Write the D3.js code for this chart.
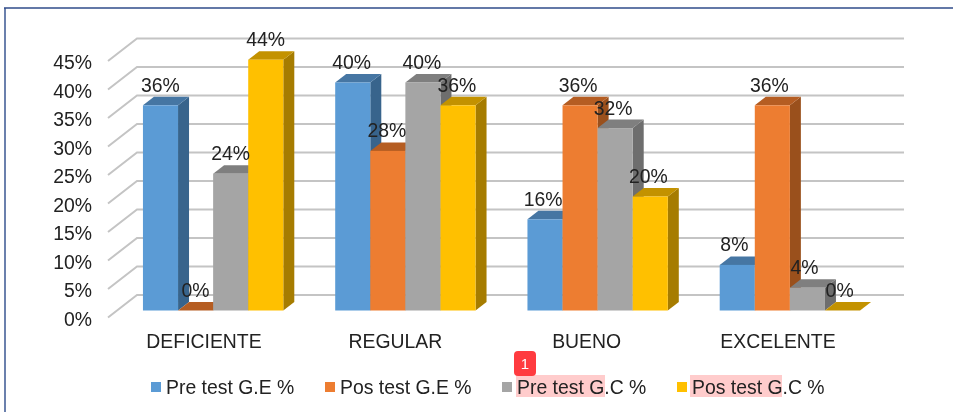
<!DOCTYPE html>
<html>
<head>
<meta charset="utf-8">
<script src="https://cdn.jsdelivr.net/npm/d3@7"></script>
<style>
  html, body { margin: 0; padding: 0; background: #fff; }
  svg { display: block; filter: blur(0.35px); }
  text { font-family: "Liberation Sans", Arial, sans-serif; fill: #222; }
</style>
</head>
<body>
<svg id="chart" width="953" height="412"></svg>
<script>
const categories = ['DEFICIENTE', 'REGULAR', 'BUENO', 'EXCELENTE'];
const seriesNames = ['Pre test G.E %', 'Pos test G.E %', 'Pre test G.C %', 'Pos test G.C %'];
const preTestGE = [36, 40, 16, 8];
const posTestGE = [0, 28, 36, 36];
const preTestGC = [24, 40, 32, 4];
const posTestGC = [44, 36, 20, 0];
const seriesValues = [preTestGE, posTestGE, preTestGC, posTestGC];
const yTicks = [0, 5, 10, 15, 20, 25, 30, 35, 40, 45];

const front = ['#5b9bd5', '#ed7d31', '#a5a5a5', '#ffc000'];
const top_ = ['#4676a3', '#b55d22', '#7f7f7f', '#c39200'];
const side = ['#38648c', '#9a501c', '#6e6e6e', '#a67c00'];

const svg = d3.select('#chart');
const font_size = 19.4;

// window frame, only top and left edges are visible
svg.append('path')
    .attr('d', 'M5,412V8')
    .attr('stroke', '#6b80ad')
    .attr('stroke-width', 2)
    .attr('fill', 'none');
svg.append('path')
    .attr('d', 'M4,8H953')
    .attr('stroke', '#2f4b8a')
    .attr('stroke-width', 1.5)
    .attr('fill', 'none');

// y scales: back wall, bar plane and axis labels are the same scale shifted
const yscale = d3.scaleLinear().domain([0, 45]).range([310.5, 54]);
const wall_dy = -15.5;
const label_dy = 7;
const depth = {x: 11, y: -8.5};

const xscale = d3.scaleBand()
    .domain(categories)
    .range([117, 886])
    .paddingInner(0.27)
    .paddingOuter(0.135);
const barscale = d3.scaleBand()
    .domain(d3.range(seriesNames.length))
    .range([0, xscale.bandwidth()]);
// text runs on a slightly tighter spacing than the bars
const labelscale = d3.scalePoint()
    .domain(categories)
    .range([204, 778]);

// gridlines
const grid = svg.append('g')
    .attr('stroke', '#c4c4c4')
    .attr('stroke-width', 2)
    .attr('fill', 'none');
grid.selectAll('path')
    .data(yTicks)
    .join('path')
    .attr('d', d => {
        const yb = yscale(d) + wall_dy;
        return `M108,${yscale(d) + label_dy}L137,${yb}H904`;
    });

// y axis
const yaxis = d3.axisLeft(yscale)
    .tickValues(yTicks)
    .tickFormat(d => d + '%')
    .tickSize(0)
    .tickPadding(0);
const yaxis_group = svg.append('g')
    .attr('transform', `translate(92, ${label_dy})`)
    .call(yaxis);
yaxis_group.select('.domain').remove();
yaxis_group.selectAll('text')
    .attr('dy', '0.4em')
    .style('font-family', '"Liberation Sans", Arial, sans-serif')
    .style('font-size', font_size + 'px');

// bars, painted left to right
const bars = [];
categories.forEach((c, i) => {
    seriesValues.forEach((vals, s) => {
        bars.push({cat: c, s: s, v: vals[i]});
    });
});

const bar_g = svg.append('g')
    .selectAll('g')
    .data(bars)
    .join('g');

const barx = d => xscale(d.cat) + barscale(d.s);
const w = barscale.bandwidth();

bar_g.append('path')
    .attr('fill', d => side[d.s])
    .attr('d', d => {
        const x = barx(d) + w, y0 = yscale(0), y1 = yscale(d.v);
        return `M${x},${y0}L${x},${y1}L${x + depth.x},${y1 + depth.y}L${x + depth.x},${y0 + depth.y}Z`;
    });
bar_g.append('path')
    .attr('fill', d => top_[d.s])
    .attr('d', d => {
        const x = barx(d), y = yscale(d.v);
        return `M${x},${y}L${x + depth.x},${y + depth.y}H${x + w + depth.x}L${x + w},${y}Z`;
    });
bar_g.append('rect')
    .attr('fill', d => front[d.s])
    .attr('x', barx)
    .attr('y', d => yscale(d.v))
    .attr('width', w)
    .attr('height', d => yscale(0) - yscale(d.v));

// data labels
const label_shift = c => labelscale(c) - xscale(c) - xscale.bandwidth() / 2 + 9;
svg.append('g')
    .selectAll('text')
    .data(bars)
    .join('text')
    .attr('x', d => barx(d) + w / 2 + label_shift(d.cat))
    .attr('y', d => yscale(d.v) - 13.5)
    .attr('text-anchor', 'middle')
    .style('font-size', font_size + 'px')
    .text(d => d.v + '%');

// category labels
svg.append('g')
    .selectAll('text')
    .data(categories)
    .join('text')
    .attr('x', d => labelscale(d))
    .attr('y', 347.5)
    .attr('text-anchor', 'middle')
    .style('font-size', font_size + 'px')
    .text(d => d);

// legend
const legend_x = [151, 325, 502, 677];
const highlight = [null, null, {x: 516, w: 89}, {x: 690, w: 92}];

svg.append('g')
    .selectAll('rect')
    .data(highlight.filter(d => d))
    .join('rect')
    .attr('x', d => d.x)
    .attr('y', 375)
    .attr('width', d => d.w)
    .attr('height', 22)
    .attr('fill', '#ffcccc');

const legend = svg.append('g')
    .selectAll('g')
    .data(seriesNames)
    .join('g')
    .attr('transform', (d, i) => `translate(${legend_x[i]}, 382)`);
legend.append('rect')
    .attr('width', 10)
    .attr('height', 10)
    .attr('fill', (d, i) => front[i]);
legend.append('text')
    .attr('x', 15)
    .attr('y', 11.7)
    .style('font-size', font_size + 'px')
    .text(d => d);

// annotation badge
svg.append('rect')
    .attr('x', 514)
    .attr('y', 351)
    .attr('width', 22)
    .attr('height', 25)
    .attr('rx', 4)
    .attr('fill', '#ff3b3f');
svg.append('text')
    .attr('x', 525)
    .attr('y', 369)
    .attr('text-anchor', 'middle')
    .style('font-size', '15px')
    .style('fill', '#fff')
    .text('1');
</script>
</body>
</html>
